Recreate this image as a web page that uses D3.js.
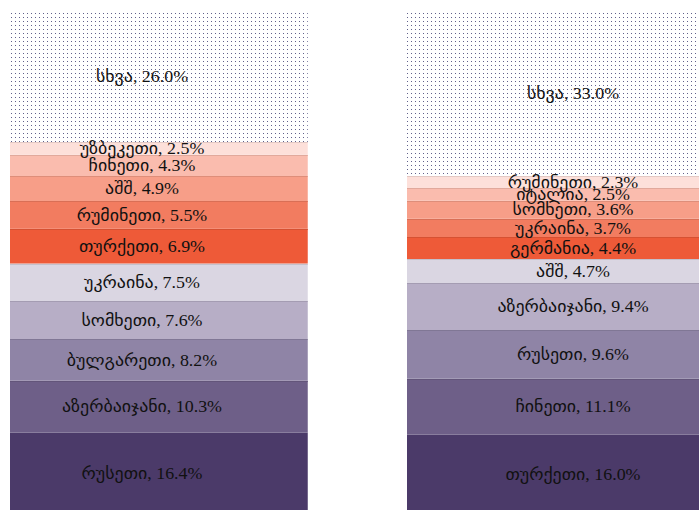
<!DOCTYPE html>
<html>
<head>
<meta charset="utf-8">
<script src="https://cdn.jsdelivr.net/npm/d3@7"></script>
<style>
  body { margin: 0; background: #fff; overflow: hidden; }
  #chart { width: 699px; height: 510px; }
</style>
</head>
<body>
<div id="chart"></div>
<script>
// two stacked columns, segments listed bottom-up
var columns = ["A", "B"];
var leftNames = ["რუსეთი", "აზერბაიჯანი", "ბულგარეთი", "სომხეთი", "უკრაინა", "თურქეთი", "რუმინეთი", "აშშ", "ჩინეთი", "უზბეკეთი", "სხვა"];
var leftValues = [16.4, 10.3, 8.2, 7.6, 7.5, 6.9, 5.5, 4.9, 4.3, 2.5, 26.0];
var rightNames = ["თურქეთი", "ჩინეთი", "რუსეთი", "აზერბაიჯანი", "აშშ", "გერმანია", "უკრაინა", "სომხეთი", "იტალია", "რუმინეთი", "სხვა"];
var rightValues = [16.0, 11.1, 9.6, 9.4, 4.7, 4.4, 3.7, 3.6, 2.5, 2.3, 33.0];
var rankColors = ["#4b3a69", "#6e5f88", "#8f84a6", "#b7aec6", "#dad6e2",
                  "#ee5a38", "#f27c60", "#f79e88", "#fabcae", "#fde0da", "url(#dots)"];

drawChart(699, 510);

function drawChart(w, h) {
  var svg = d3.select("#chart").append("svg")
      .attr("width", w)
      .attr("height", h);

  // dotted fill for "other"
  var pat = svg.append("defs").append("pattern")
      .attr("id", "dots")
      .attr("patternUnits", "userSpaceOnUse")
      .attr("x", 11).attr("y", 13)
      .attr("width", 4).attr("height", 4);
  pat.append("rect").attr("width", 4).attr("height", 4).attr("fill", "#fff");
  pat.append("rect").attr("width", 1).attr("height", 1).attr("fill", "#3a3a6e").attr("opacity", 0.8);

  var x = d3.scaleBand()
      .domain(columns)
      .range([10, 704.75])
      .paddingInner(0.25)
      .paddingOuter(0);

  var y = d3.scaleLinear()
      .domain([0, 100])
      .range([515, 12]);

  // label centre, measured from the column's left edge
  var labelOffset = { A: 132, B: 166 };

  var data = [
    { col: "A", names: leftNames, values: leftValues },
    { col: "B", names: rightNames, values: rightValues }
  ];

  data.forEach(function(c) {
    var cum = 0;
    var segs = c.values.map(function(v, i) {
      var s = { name: c.names[i], value: v, y0: cum, y1: cum + v, rank: i };
      cum += v;
      return s;
    });

    var g = svg.append("g");

    g.selectAll("rect")
      .data(segs)
      .enter().append("rect")
      .attr("x", x(c.col))
      .attr("width", x.bandwidth())
      .attr("y", function(d) { return y(d.y1); })
      .attr("height", function(d) { return y(d.y0) - y(d.y1); })
      .attr("fill", function(d) { return rankColors[d.rank]; });

    // thin darker edge on top of each coloured segment
    g.selectAll("line")
      .data(segs.filter(function(d) { return d.rank > 0 && d.rank < 10; }))
      .enter().append("line")
      .attr("x1", x(c.col))
      .attr("x2", x(c.col) + x.bandwidth())
      .attr("y1", function(d) { return Math.round(y(d.y1)) + 0.5; })
      .attr("y2", function(d) { return Math.round(y(d.y1)) + 0.5; })
      .attr("stroke", function(d) { return d3.color(rankColors[d.rank]).darker(0.3); })
      .attr("stroke-width", 1);

    // labels are a little wider than tall in the original
    g.selectAll("text")
      .data(segs)
      .enter().append("text")
      .attr("transform", function(d) {
        return "translate(" + (x(c.col) + labelOffset[c.col]) + "," + y((d.y0 + d.y1) / 2) + ") scale(1.12,1)";
      })
      .attr("dy", "0.35em")
      .attr("text-anchor", "middle")
      .style("font-family", "'Liberation Serif', 'DejaVu Sans', sans-serif")
      .style("font-size", "16px")
      .style("fill", "#111")
      .text(function(d) { return d.name + ", " + d.value.toFixed(1) + "%"; });
  });
}
</script>
</body>
</html>
